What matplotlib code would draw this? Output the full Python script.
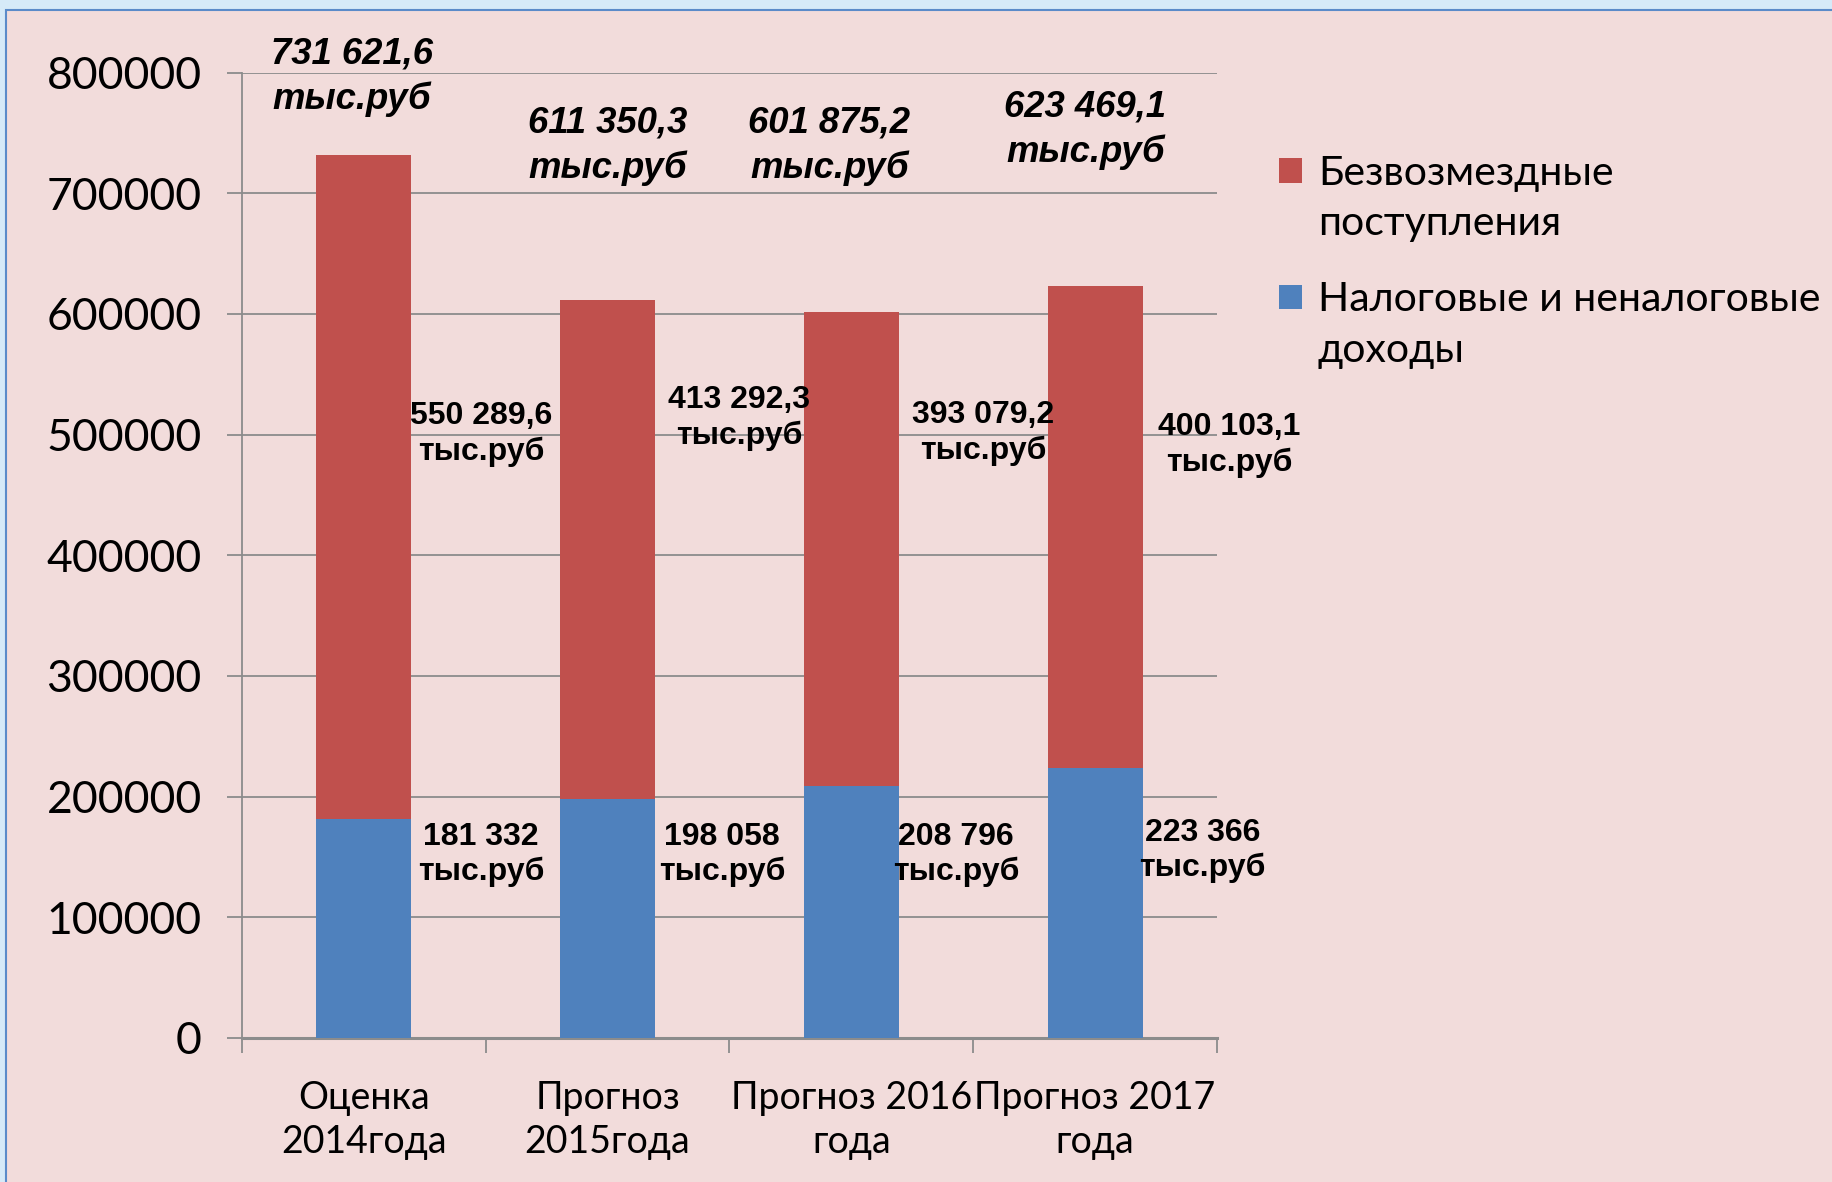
import matplotlib
matplotlib.use("Agg")
import matplotlib.pyplot as plt
from matplotlib.patches import Patch, Rectangle
from matplotlib.legend_handler import HandlerPatch
from matplotlib.ticker import FixedLocator

categories = ["Оценка\n2014года", "Прогноз\n2015года", "Прогноз 2016\nгода", "Прогноз 2017\nгода"]
tax_income = [181332, 198058, 208796, 223366]
grants = [550289.6, 413292.3, 393079.2, 400103.1]
totals_text = ["731 621,6", "611 350,3", "601 875,2", "623 469,1"]
grants_text = ["550 289,6", "413 292,3", "393 079,2", "400 103,1"]
tax_text = ["181 332", "198 058", "208 796", "223 366"]
legend_labels = ["Безвозмездные\nпоступления", "Налоговые и неналоговые\nдоходы"]
unit = "тыс.руб"

# label placement (data coords), as laid out in the original slide
total_pos = [(-0.05, 796700), (1.00, 739100), (1.91, 739100), (2.96, 752800)]
grant_pos = [(0.48, 500600), (1.54, 513900), (2.54, 501000), (3.55, 491100)]
tax_pos = [(0.48, 152400), (1.47, 152000), (2.43, 152000), (3.44, 155700)]

red = "#C0504D"
blue = "#4F81BD"
bg = "#F2DCDB"
grid_c = "#8C8C8C"

fig = plt.figure(figsize=(18.33, 11.82), dpi=100)
fig.patch.set_facecolor("#D6EAF8")
fig.patches.append(Rectangle((6 / 1833, -0.01), 1.02, 1 - 10 / 1182 + 0.01,
                             transform=fig.transFigure, facecolor=bg,
                             edgecolor="#5B8BC9", linewidth=1.5, zorder=-10))

ax = fig.add_axes([242 / 1833, 144 / 1182, 975 / 1833, 965.5 / 1182])
ax.set_facecolor("none")

x = list(range(len(categories)))
ax.bar(x, tax_income, width=0.39, color=blue, zorder=3)
ax.bar(x, grants, width=0.39, bottom=tax_income, color=red, zorder=3)

ax.set_xlim(-0.5, len(categories) - 0.5)
ax.set_ylim(0, 800000)
ax.set_yticks(range(0, 800001, 100000))
ax.set_yticklabels([str(v) for v in range(0, 800001, 100000)])
ax.yaxis.grid(True, color=grid_c, linewidth=1.3, zorder=1)
ax.set_axisbelow(True)

ax.set_xticks(x)
ax.set_xticklabels(categories, fontfamily="Lato", fontsize=27, linespacing=1.3)
ax.xaxis.set_minor_locator(FixedLocator([i - 0.5 for i in range(len(categories) + 1)]))
ax.tick_params(axis="x", which="major", length=0, pad=30)
ax.tick_params(axis="x", which="minor", length=11, width=1.3, color=grid_c)
ax.tick_params(axis="y", length=11, width=1.3, color=grid_c, pad=18)
for lab in ax.get_yticklabels():
    lab.set_fontfamily("Lato")
    lab.set_fontsize(32)

for side in ["top", "right"]:
    ax.spines[side].set_visible(False)
ax.spines["left"].set_color(grid_c)
ax.spines["left"].set_linewidth(1.3)
ax.spines["bottom"].set_color(grid_c)
ax.spines["bottom"].set_linewidth(2.2)

for (px, py), t in zip(total_pos, totals_text):
    ax.text(px, py, t + "\n" + unit, ha="center", va="center", fontsize=26.3,
            fontweight="bold", fontstyle="italic", family="Liberation Sans",
            linespacing=1.37, zorder=5)
for (px, py), t in zip(grant_pos, grants_text):
    ax.text(px, py, t + "\n" + unit, ha="center", va="center", fontsize=23,
            fontweight="bold", family="Liberation Sans", linespacing=1.25, zorder=5)
for (px, py), t in zip(tax_pos, tax_text):
    ax.text(px, py, t + "\n" + unit, ha="center", va="center", fontsize=23,
            fontweight="bold", family="Liberation Sans", linespacing=1.2, zorder=5)


def top_square(legend, orig_handle, xdescent, ydescent, width, height, fontsize):
    # put the square next to the first line of a two-line label
    return Rectangle((-xdescent, -ydescent + 20.6), width, height)


handles = [Patch(facecolor=red), Patch(facecolor=blue)]
leg = fig.legend(handles, legend_labels, loc="upper left",
                 bbox_to_anchor=(1279 / 1833, 1 - 155 / 1182), frameon=False,
                 prop={"family": "Lato", "size": 29.5}, handlelength=0.55, handleheight=0.55,
                 handletextpad=0.4, labelspacing=0.95, borderaxespad=0, borderpad=0,
                 handler_map={Patch: HandlerPatch(patch_func=top_square)})
for t in leg.get_texts():
    t.set_linespacing(1.45)

fig.savefig("out.png", dpi=100, facecolor=fig.get_facecolor())
